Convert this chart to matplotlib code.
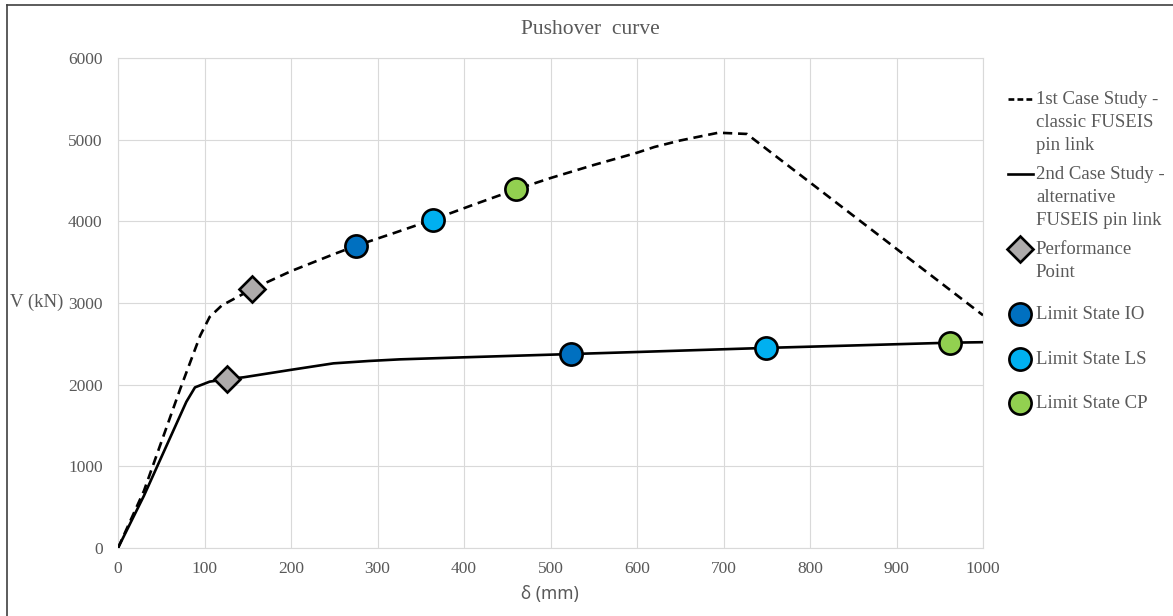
import matplotlib
matplotlib.use("Agg")
import matplotlib.pyplot as plt
from matplotlib.lines import Line2D

# --- data -------------------------------------------------------------
case1_disp = [0, 30, 72, 95, 106, 120, 155, 200, 250, 275, 320, 364, 410, 460,
              500, 550, 600, 620, 650, 694, 727, 1000]
case1_shear = [0, 700, 1950, 2600, 2830, 2970, 3170, 3390, 3600, 3700, 3860, 4020,
               4200, 4390, 4530, 4690, 4840, 4910, 4990, 5085, 5070, 2850]

case2_disp = [0, 30, 79, 89, 106, 126, 145, 199, 249, 290, 326, 400, 524, 600,
              749, 850, 962, 1000]
case2_shear = [0, 640, 1790, 1967, 2037, 2069, 2090, 2180, 2261, 2290, 2310, 2335,
               2375, 2400, 2450, 2480, 2514, 2520]

perf_disp, perf_shear = [155, 126], [3170, 2069]
io_disp, io_shear = [275, 524], [3700, 2375]
ls_disp, ls_shear = [364, 749], [4020, 2450]
cp_disp, cp_shear = [460, 962], [4390, 2514]

x_ticks = list(range(0, 1001, 100))
y_ticks = list(range(0, 6001, 1000))

series_labels = ["1st Case Study -\nclassic FUSEIS\npin link",
                 "2nd Case Study -\nalternative\nFUSEIS pin link"]
marker_labels = ["Performance\nPoint", "Limit State IO", "Limit State LS",
                 "Limit State CP"]

# --- style ------------------------------------------------------------
SERIF = "Liberation Serif"
TXT = "#595959"
GRID = "#d9d9d9"
C_PERF, C_IO, C_LS, C_CP = "#AEABAB", "#0070C0", "#00B0F0", "#92D050"

W, H = 1173, 616
fig = plt.figure(figsize=(W / 100, H / 100), dpi=100)
ax = fig.add_axes([118 / W, 1 - 548 / H, (983 - 118) / W, (548 - 58) / H])

ax.plot(case1_disp, case1_shear, color="black", lw=1.9, ls=(0, (3.5, 2.2)),
        zorder=3)
ax.plot(case2_disp, case2_shear, color="black", lw=1.9, zorder=3)

circ = dict(marker="o", ms=16, mec="black", mew=1.9, ls="none")
ax.plot(perf_disp, perf_shear, marker="D", ms=13, mfc=C_PERF, mec="black",
        mew=1.9, ls="none", zorder=4)
ax.plot(io_disp, io_shear, mfc=C_IO, zorder=4, **circ)
ax.plot(ls_disp, ls_shear, mfc=C_LS, zorder=4, **circ)
ax.plot(cp_disp, cp_shear, mfc=C_CP, zorder=4, **circ)

ax.set_xlim(0, 1000)
ax.set_ylim(0, 6000)
ax.set_xticks(x_ticks)
ax.set_yticks(y_ticks)
ax.grid(True, color=GRID, lw=0.8, zorder=0)
ax.set_axisbelow(True)
for sp in ax.spines.values():
    sp.set_color(GRID)
    sp.set_linewidth(0.8)
ax.tick_params(length=0, labelcolor=TXT, labelsize=12.5)
ax.tick_params(axis="x", pad=9.5)
ax.tick_params(axis="y", pad=11)
for lab in ax.get_xticklabels() + ax.get_yticklabels():
    lab.set_family(SERIF)

fig.text(590 / W, 1 - 30 / H, "Pushover  curve", ha="center", va="center",
         family=SERIF, fontsize=15.5, color=TXT)
fig.text(10 / W, 1 - 302 / H, "V (kN)", ha="left", va="center",
         family=SERIF, fontsize=13.5, color=TXT)
fig.text(550 / W, 1 - 594 / H, "δ (mm)", ha="center", va="center",
         family=["Noto Sans", "DejaVu Sans"], fontsize=12.5, color=TXT)

# --- legends ----------------------------------------------------------
line_handles = [Line2D([], [], color="black", lw=1.9, ls=(0, (2.2, 1.2))),
                Line2D([], [], color="black", lw=1.9)]
mark_handles = [Line2D([], [], marker="D", ms=13, mfc=C_PERF, mec="black",
                       mew=1.9, ls="none"),
                Line2D([], [], mfc=C_IO, **circ),
                Line2D([], [], mfc=C_LS, **circ),
                Line2D([], [], mfc=C_CP, **circ)]

leg_kw = dict(loc="upper left", frameon=False, borderpad=0, borderaxespad=0,
              handlelength=1.33, handletextpad=0.16, handleheight=1.17,
              prop={"family": SERIF, "size": 13.5}, labelcolor=TXT)


def top_align(leg):
    for col in leg._legend_handle_box.get_children():
        for row in col.get_children():
            row.align = "top"
    for t in leg.get_texts():
        t.set_linespacing(1.45)


leg1 = fig.legend(line_handles, series_labels,
                  bbox_to_anchor=(1008 / W, 1 - 91 / H), labelspacing=0.66,
                  **leg_kw)
top_align(leg1)
leg2 = fig.legend(mark_handles, marker_labels,
                  bbox_to_anchor=(1008 / W, 1 - 241 / H), labelspacing=1.36,
                  **leg_kw)
top_align(leg2)

# outer frame lines
fig.add_artist(Line2D([7 / W, 1], [1 - 5 / H, 1 - 5 / H], color="#404040",
                      lw=1.2, transform=fig.transFigure))
fig.add_artist(Line2D([7 / W, 7 / W], [0, 1 - 5 / H], color="#404040",
                      lw=1.2, transform=fig.transFigure))

fig.savefig("out.png", dpi=100)
